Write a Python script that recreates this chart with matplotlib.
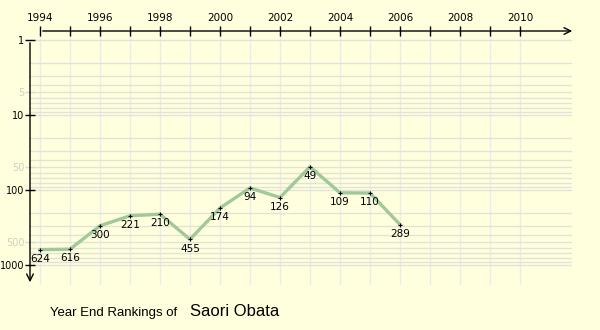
import matplotlib.pyplot as plt
from matplotlib.ticker import FixedLocator, FixedFormatter

# year-end singles ranking
years = [1994, 1995, 1996, 1997, 1998, 1999, 2000, 2001, 2002, 2003, 2004, 2005, 2006]
ranks = [624, 616, 300, 221, 210, 455, 174, 94, 126, 49, 109, 110, 289]

tick_years = list(range(1994, 2011))
year_labels = [str(y) if y % 2 == 0 else '' for y in tick_years]
rank_ticks = [1, 5, 10, 50, 100, 500, 1000]
rank_labels = ['1', '5', '10', '50', '100', '500', '1000']
faint_ranks = [5, 50, 500]
minor_ranks = [m * d for d in (1, 10, 100) for m in range(2, 10)]

bg = '#ffffdd'
fig = plt.figure(figsize=(6, 3.3), dpi=100, facecolor=bg)
ax = fig.add_axes([30 / 600, 45 / 330, 542 / 600, 254 / 330])
ax.set_facecolor(bg)
ax.set_yscale('log')
ax.set_xlim(1994 - 10 / 30, 1994 + 532 / 30)
ax.set_ylim(10 ** (245 / 75), 10 ** (-9 / 75))

for s in ax.spines.values():
    s.set_visible(False)

# top year axis
ax.xaxis.set_ticks_position('top')
ax.xaxis.set_major_locator(FixedLocator(tick_years))
ax.xaxis.set_major_formatter(FixedFormatter(year_labels))
ax.tick_params(axis='x', direction='inout', length=7, width=1, pad=2, labelsize=7.5)

# left ranking axis
ax.yaxis.set_major_locator(FixedLocator(rank_ticks))
ax.yaxis.set_major_formatter(FixedFormatter(rank_labels))
ax.yaxis.set_minor_locator(FixedLocator(minor_ranks))
ax.tick_params(axis='y', which='major', direction='inout', length=7, width=1, pad=0.5, labelsize=7)
ax.tick_params(axis='y', which='minor', length=0)
for tick, val in zip(ax.yaxis.get_major_ticks(), rank_ticks):
    if val in faint_ranks:
        tick.label1.set_color('#cfcfc0')
        tick.tick1line.set_markeredgecolor('#dcdccc')

ax.grid(axis='x', which='major', color='#ebebeb', lw=1)
ax.grid(axis='y', which='both', color='#e2e2d8', lw=1)
ax.set_axisbelow(True)

# axis lines with open arrowheads
ax.annotate('', xy=(1994 + 535 / 30, 1), xytext=(1994, 1),
            xycoords=('data', 'axes fraction'), textcoords=('data', 'axes fraction'),
            arrowprops=dict(arrowstyle='->', lw=1, color='black', mutation_scale=12),
            annotation_clip=False)
ax.annotate('', xy=(0, 0), xytext=(0, 1),
            xycoords='axes fraction', textcoords=('axes fraction', 'data'),
            arrowprops=dict(arrowstyle='->', lw=1, color='black', mutation_scale=12),
            annotation_clip=False)

ax.plot(years, ranks, color='#a0c99a', lw=2.4, solid_joinstyle='round', zorder=3)
ax.plot(years, ranks, '+', color='black', ms=3.5, mew=0.8, zorder=4)
for y, r in zip(years, ranks):
    ax.annotate(str(r), (y, r), xytext=(0, -3), textcoords='offset points',
                ha='center', va='top', fontsize=7.5, zorder=5)

fig.text(50 / 600, 1 - 316 / 330, 'Year End Rankings of', fontsize=9.5,
         family='Liberation Sans', va='baseline')
fig.text(190 / 600, 1 - 316 / 330, 'Saori Obata', fontsize=12,
         family='Liberation Sans', va='baseline')

fig.savefig('out.png', dpi=100, facecolor=bg)
